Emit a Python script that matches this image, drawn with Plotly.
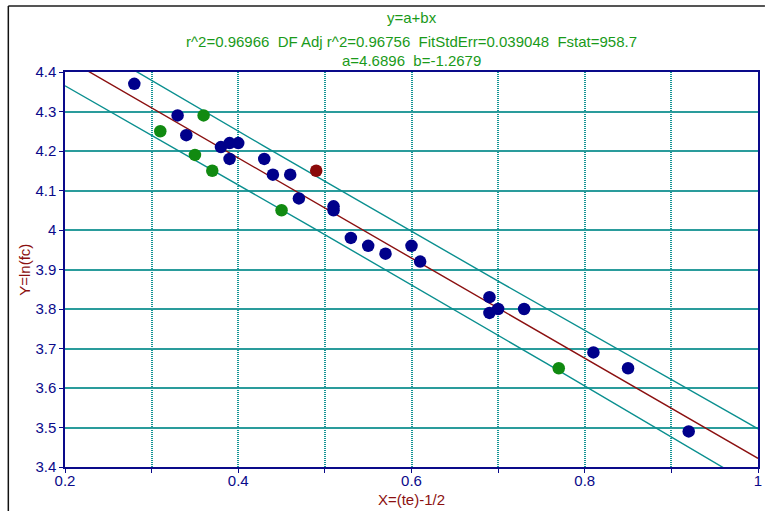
import numpy as np
import plotly.graph_objects as go

# Observations, grouped by marker colour
blue_x = [0.28, 0.33, 0.34, 0.38, 0.39, 0.40, 0.39, 0.43, 0.44, 0.46, 0.47, 0.51, 0.51,
          0.53, 0.55, 0.57, 0.60, 0.61, 0.69, 0.69, 0.70, 0.73, 0.81, 0.85, 0.92]
blue_y = [4.37, 4.29, 4.24, 4.21, 4.22, 4.22, 4.18, 4.18, 4.14, 4.14, 4.08, 4.06, 4.05,
          3.98, 3.96, 3.94, 3.96, 3.92, 3.83, 3.79, 3.80, 3.80, 3.69, 3.65, 3.49]
green_x = [0.31, 0.36, 0.35, 0.37, 0.45, 0.77]
green_y = [4.25, 4.29, 4.19, 4.15, 4.05, 3.65]
red_x = [0.49]
red_y = [4.15]

# Fit results
a = 4.6896
b = -1.2679
fit_std_err = 0.039048
t_crit = 1.6973  # two-sided 90 %, df = n - 2 = 30

title_lines = [
    "y=a+bx",
    "r^2=0.96966  DF Adj r^2=0.96756  FitStdErr=0.039048  Fstat=958.7",
    "a=4.6896  b=-1.2679",
]
x_ticks = [0.2, 0.4, 0.6, 0.8, 1.0]
x_labels = ["0.2", "0.4", "0.6", "0.8", "1"]
y_ticks = [3.4, 3.5, 3.6, 3.7, 3.8, 3.9, 4.0, 4.1, 4.2, 4.3, 4.4]
y_labels = ["3.4", "3.5", "3.6", "3.7", "3.8", "3.9", "4", "4.1", "4.2", "4.3", "4.4"]

all_x = np.array(blue_x + green_x + red_x)
n = all_x.size
x_mean = all_x.mean()
sxx = ((all_x - x_mean) ** 2).sum()

xs = np.linspace(0.2, 1.0, 200)
y_fit = a + b * xs
half = t_crit * fit_std_err * np.sqrt(1 + 1 / n + (xs - x_mean) ** 2 / sxx)

NAVY = "#0a0a8a"
TEAL = "#0a8f8f"
GRID = "#2a9c9c"
VGRID = "#139494"
FIT = "#8b1010"
GREEN_TXT = "#1a9a1a"
FONT = "Liberation Sans, Arial"

fig = go.Figure()
fig.add_trace(go.Scatter(x=xs, y=y_fit + half, mode="lines",
                         line=dict(color=TEAL, width=1.4), hoverinfo="skip"))
fig.add_trace(go.Scatter(x=xs, y=y_fit - half, mode="lines",
                         line=dict(color=TEAL, width=1.4), hoverinfo="skip"))
fig.add_trace(go.Scatter(x=xs, y=y_fit, mode="lines",
                         line=dict(color=FIT, width=1.4), hoverinfo="skip"))
fig.add_trace(go.Scatter(x=blue_x, y=blue_y, mode="markers",
                         marker=dict(color="#00008b", size=12.5)))
fig.add_trace(go.Scatter(x=green_x, y=green_y, mode="markers",
                         marker=dict(color="#118a11", size=12.5)))
fig.add_trace(go.Scatter(x=red_x, y=red_y, mode="markers",
                         marker=dict(color="#8b0a0a", size=12.5)))

# Three-line header
for txt, yp in zip(title_lines, [18, 41, 60]):
    fig.add_annotation(text=txt, xref="paper", x=0.5, yref="paper",
                       y=1 + (72 - yp) / 395, yanchor="middle", showarrow=False,
                       font=dict(family=FONT, size=15, color=GREEN_TXT))

# Y-axis caption, rotated
fig.add_annotation(text="Y=ln(fc)", xref="paper", x=-(65 - 24) / 697, xanchor="center",
                   yref="paper", y=0.5, yanchor="middle", textangle=-90, showarrow=False,
                   font=dict(family=FONT, size=15, color=FIT))

# Outer window frame
fig.add_shape(type="line", xref="paper", yref="paper",
              x0=-57 / 697, x1=1.01, y0=1 + 66 / 395, y1=1 + 66 / 395,
              line=dict(color="#555555", width=2))
fig.add_shape(type="line", xref="paper", yref="paper",
              x0=-57 / 697, x1=-57 / 697, y0=1 + 66 / 395, y1=-0.2,
              line=dict(color="#111111", width=1.5))

axis_font = dict(family=FONT, size=15, color=NAVY)
fig.update_layout(
    width=765, height=511,
    margin=dict(l=65, r=3, t=72, b=44),
    paper_bgcolor="white", plot_bgcolor="white",
    showlegend=False,
    xaxis=dict(range=[0.2, 1.0], tickvals=x_ticks, ticktext=x_labels,
               showgrid=True, gridcolor=VGRID, griddash="1px,1px", gridwidth=2,
               minor=dict(dtick=0.1, tick0=0.2, showgrid=True, gridcolor=VGRID,
                          griddash="1px,1px", gridwidth=2, ticks="outside",
                          ticklen=4, tickcolor=NAVY),
               ticks="outside", ticklen=4, tickcolor=NAVY,
               ticklabelstandoff=-5,
               showline=True, linecolor=NAVY, linewidth=1.5, mirror=True,
               tickfont=axis_font, zeroline=False,
               title=dict(text="X=(te)-1/2", standoff=7,
                          font=dict(family=FONT, size=15, color=FIT))),
    yaxis=dict(range=[3.4, 4.4], tickvals=y_ticks, ticktext=y_labels,
               showgrid=True, gridcolor=GRID, gridwidth=1.5,
               ticks="outside", ticklen=4, tickcolor=NAVY,
               showline=True, linecolor=NAVY, linewidth=1.5, mirror=True,
               tickfont=axis_font, zeroline=False),
)

fig.write_html("out.html")
